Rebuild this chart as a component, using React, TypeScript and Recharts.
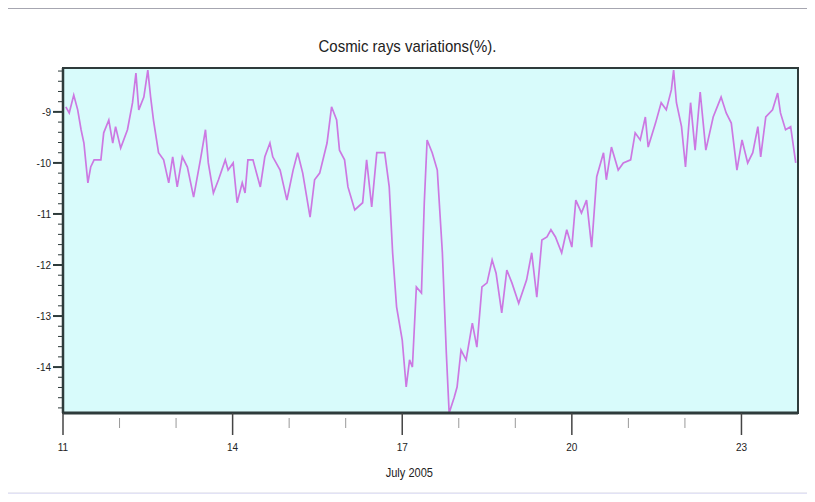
import { LineChart, Line, XAxis, YAxis, ReferenceArea } from "recharts";

// hours since July 11 2005, in days
const days = [
  11.05, 11.11, 11.19, 11.26, 11.32, 11.37, 11.44, 11.49, 11.55, 11.67, 11.72, 11.81, 11.88, 11.93,
  12.02, 12.14, 12.23, 12.29, 12.34, 12.43, 12.5, 12.55, 12.6, 12.69, 12.78, 12.87, 12.94,
  13.02, 13.11, 13.2, 13.31, 13.43, 13.52, 13.57, 13.66, 13.75, 13.87, 13.92,
  14.01, 14.08, 14.17, 14.22, 14.27, 14.36, 14.49, 14.57, 14.66, 14.71, 14.84, 14.96,
  15.07, 15.15, 15.24, 15.37, 15.45, 15.54, 15.67, 15.75, 15.84, 15.89, 15.98,
  16.04, 16.16, 16.3, 16.37, 16.46, 16.55, 16.69, 16.77, 16.83, 16.9,
  17.0, 17.07, 17.13, 17.18, 17.25, 17.34, 17.39, 17.44, 17.53, 17.62, 17.71, 17.78, 17.83, 17.92, 17.97,
  18.04, 18.13, 18.24, 18.32, 18.41, 18.5, 18.59, 18.66, 18.76, 18.85, 18.94,
  19.06, 19.2, 19.29, 19.38, 19.47, 19.56, 19.63, 19.71, 19.82, 19.91,
  20.0, 20.07, 20.17, 20.26, 20.35, 20.44, 20.56, 20.61, 20.7, 20.82, 20.91,
  21.04, 21.12, 21.21, 21.3, 21.35, 21.48, 21.58, 21.67, 21.76, 21.8, 21.85, 21.94,
  22.01, 22.1, 22.18, 22.27, 22.37, 22.5, 22.64, 22.73, 22.82, 22.92,
  23.01, 23.11, 23.2, 23.29, 23.34, 23.43, 23.55, 23.64, 23.69, 23.78, 23.87, 23.96,
];

const variation = [
  -8.9, -9.02, -8.67, -8.96, -9.35, -9.61, -10.39, -10.08, -9.94, -9.94, -9.41, -9.16, -9.61, -9.29,
  -9.71, -9.35, -8.82, -8.24, -8.96, -8.71, -8.18, -8.71, -9.16, -9.8, -9.94, -10.39, -9.88,
  -10.47, -9.88, -10.08, -10.67, -9.94, -9.35, -10.0, -10.59, -10.33, -9.94, -10.14,
  -10.0, -10.78, -10.39, -10.59, -9.94, -9.94, -10.47, -9.88, -9.61, -9.88, -10.14, -10.73,
  -10.14, -9.8, -10.2, -11.06, -10.33, -10.2, -9.61, -8.9, -9.16, -9.75, -9.94,
  -10.47, -10.92, -10.78, -9.94, -10.86, -9.8, -9.8, -10.47, -11.76, -12.82,
  -13.47, -14.39, -13.86, -14.0, -12.43, -12.55, -10.78, -9.55, -9.8, -10.14, -11.76, -13.73, -14.9, -14.59, -14.39,
  -13.67, -13.86, -13.14, -13.61, -12.43, -12.35, -11.9, -12.16, -12.94, -12.1, -12.35,
  -12.75, -12.29, -11.76, -12.63, -11.51, -11.45, -11.31, -11.45, -11.76, -11.31,
  -11.65, -10.73, -10.98, -10.73, -11.65, -10.27, -9.8, -10.33, -9.69, -10.14, -10.0,
  -9.94, -9.41, -9.55, -9.1, -9.69, -9.22, -8.82, -8.96, -8.57, -8.18, -8.82, -9.29,
  -10.08, -8.82, -9.75, -8.61, -9.75, -9.1, -8.71, -9.02, -9.22, -10.14,
  -9.55, -10.0, -9.8, -9.29, -9.88, -9.1, -8.96, -8.63, -9.02, -9.35, -9.29, -10.0,
];

const xMajorTicks = [11, 14, 17, 20, 23];
const xAllTicks = [11, 12, 13, 14, 15, 16, 17, 18, 19, 20, 21, 22, 23];
const yMajorTicks = [-9, -10, -11, -12, -13, -14];
const yAllTicks = [
  -8.2, -8.4, -8.6, -8.8, -9, -9.2, -9.4, -9.6, -9.8, -10, -10.2, -10.4, -10.6, -10.8, -11,
  -11.2, -11.4, -11.6, -11.8, -12, -12.2, -12.4, -12.6, -12.8, -13, -13.2, -13.4, -13.6, -13.8,
  -14, -14.2, -14.4, -14.6, -14.8,
];

const data = days.map((d, i) => ({ day: d, value: variation[i] }));

const font = "'Liberation Sans Narrow', 'Liberation Sans', Arial, sans-serif";
const axisColor = "#2e3b3b";

const YTick = (props: any) => {
  const { x, y, payload } = props;
  const major = yMajorTicks.includes(payload.value);
  return (
    <g>
      <line x1={x - (major ? 10 : 5)} x2={x} y1={y} y2={y} stroke={axisColor} strokeWidth={major ? 2 : 1} />
      {major && (
        <text x={x - 12} y={y} dy={4} textAnchor="end" fontSize={10} fontFamily={font} fill="#222">
          {payload.value}
        </text>
      )}
    </g>
  );
};

const XTick = (props: any) => {
  const { x, y, payload } = props;
  const major = xMajorTicks.includes(payload.value);
  return (
    <g>
      <line x1={x} x2={x} y1={y + (major ? 0 : 5)} y2={y + (major ? 22 : 15)} stroke={major ? "#444" : "#999"} strokeWidth={major ? 1.5 : 1} />
      {major && (
        <text x={x} y={y + 38} textAnchor="middle" fontSize={10} fontFamily={font} fill="#222">
          {payload.value}
        </text>
      )}
    </g>
  );
};

export default function App() {
  return (
    <div style={{ position: "relative", width: 815, height: 502, margin: -8, background: "#e2e2f5", overflow: "hidden" }}>
      <div
        style={{
          position: "absolute",
          left: 6,
          top: 6,
          width: 803,
          height: 483,
          background: "#ffffff",
          borderTop: "3px solid #a6a6b0",
          borderBottom: "1px solid #ececf2",
        }}
      />
      <div
        style={{
          position: "absolute",
          left: 0,
          width: 815,
          top: 37,
          textAlign: "center",
          fontFamily: font,
          fontSize: 17,
          color: "#222",
          transform: "scaleX(0.88)",
        }}
      >
        Cosmic rays variations(%).
      </div>
      <div
        style={{
          position: "absolute",
          left: 0,
          width: 815,
          top: 465,
          paddingLeft: 2,
          textAlign: "center",
          fontFamily: font,
          fontSize: 13,
          color: "#222",
          transform: "scaleX(0.85)",
        }}
      >
        July 2005
      </div>
      <div style={{ position: "absolute", left: 0, top: 0 }}>
        <LineChart width={815} height={502} data={data} margin={{ top: 68, right: 17, bottom: 49, left: 0 }}>
          <ReferenceArea x1={11} x2={24} y1={-14.9} y2={-8.14} fill="#d8fbfb" fillOpacity={1} stroke={axisColor} strokeWidth={2} />
          <XAxis
            type="number"
            dataKey="day"
            domain={[11, 24]}
            ticks={xAllTicks}
            interval={0}
            tick={<XTick />}
            tickLine={false}
            tickSize={0}
            tickMargin={0}
            height={40}
            axisLine={{ stroke: axisColor, strokeWidth: 3 }}
            allowDataOverflow
          />
          <YAxis
            type="number"
            domain={[-14.9, -8.14]}
            ticks={yAllTicks}
            interval={0}
            tick={<YTick />}
            tickLine={false}
            tickSize={0}
            tickMargin={0}
            width={63}
            axisLine={{ stroke: axisColor, strokeWidth: 2.5 }}
            allowDataOverflow
          />
          <Line
            type="linear"
            dataKey="value"
            stroke="#cc78e2"
            strokeWidth={1.7}
            dot={false}
            isAnimationActive={false}
          />
        </LineChart>
      </div>
    </div>
  );
}
